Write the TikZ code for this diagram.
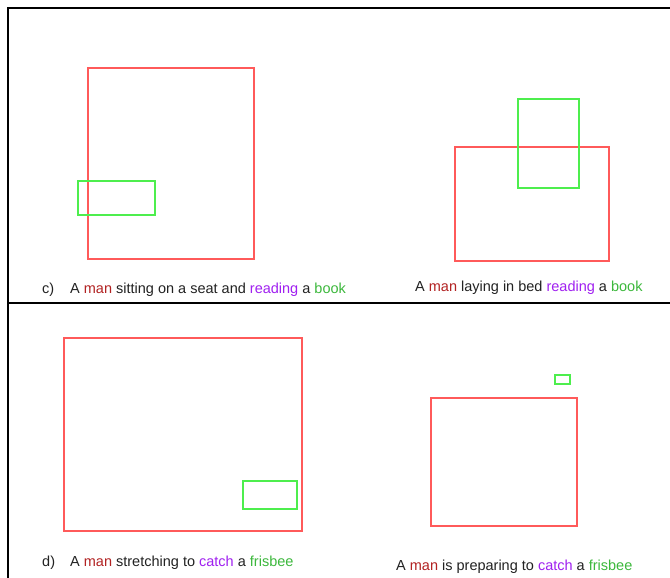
\documentclass[tikz,border=0pt]{standalone}
\usepackage{fontspec}
\setmainfont{Liberation Sans}
\usepackage{xcolor}
\definecolor{manred}{HTML}{B22222}
\definecolor{verbpurple}{HTML}{A020F0}
\definecolor{objgreen}{HTML}{3CB83C}
\definecolor{boxred}{HTML}{FF5A5A}
\definecolor{boxgreen}{HTML}{4DEE4D}
\definecolor{capgray}{HTML}{222222}
\usetikzlibrary{positioning}
\newcommand{\subj}[1]{\textcolor{manred}{#1}}
\newcommand{\verbw}[1]{\textcolor{verbpurple}{#1}}
\newcommand{\objw}[1]{\textcolor{objgreen}{#1}}

\begin{document}
\begin{tikzpicture}[x=1pt, y=-1pt,
                   frame/.style={draw=black, line width=1.2pt},
                   subjbox/.style={draw=boxred, line width=1.3pt},
                   objbox/.style={draw=boxgreen, line width=1.3pt},
                   caption/.style={anchor=base west, inner sep=0pt, text=capgray,
                                   font=\fontsize{14.5}{16}\selectfont},
                   tag/.style={caption}]
    \useasboundingbox (0,0) rectangle (670,578);
    \fill[white] (0,0) rectangle (670,578);
    \draw[frame] (670,8) -- (8,8) -- (8,578);
    \draw[frame] (8,303) -- (670,303);
    \draw[subjbox] (88,68) rectangle (254,259);
    \draw[objbox] (78,181) rectangle (155,215);
    \draw[subjbox] (455,147) rectangle (609,261);
    \draw[objbox] (518,99) rectangle (579,188);
    \draw[subjbox] (64,338) rectangle (302,531);
    \draw[objbox] (243,481) rectangle (297,509);
    \draw[subjbox] (431,398) rectangle (577,526);
    \draw[objbox] (555,375) rectangle (570,384);
    \node[tag] (tagc) at (42,293) {c)};
    \node[caption] (capc1) at (70,293) {A \subj{man} sitting on a seat and \verbw{reading} a \objw{book}};
    \node[caption] (capc2) at (415,291) {A \subj{man} laying in bed \verbw{reading} a \objw{book}};
    \node[tag] (tagd) at (42,566) {d)};
    \node[caption] (capd1) at (70,566) {A \subj{man} stretching to \verbw{catch} a \objw{frisbee}};
    \node[caption] (capd2) at (396,570) {A \subj{man} is preparing to \verbw{catch} a \objw{frisbee}};
\end{tikzpicture}
\end{document}
